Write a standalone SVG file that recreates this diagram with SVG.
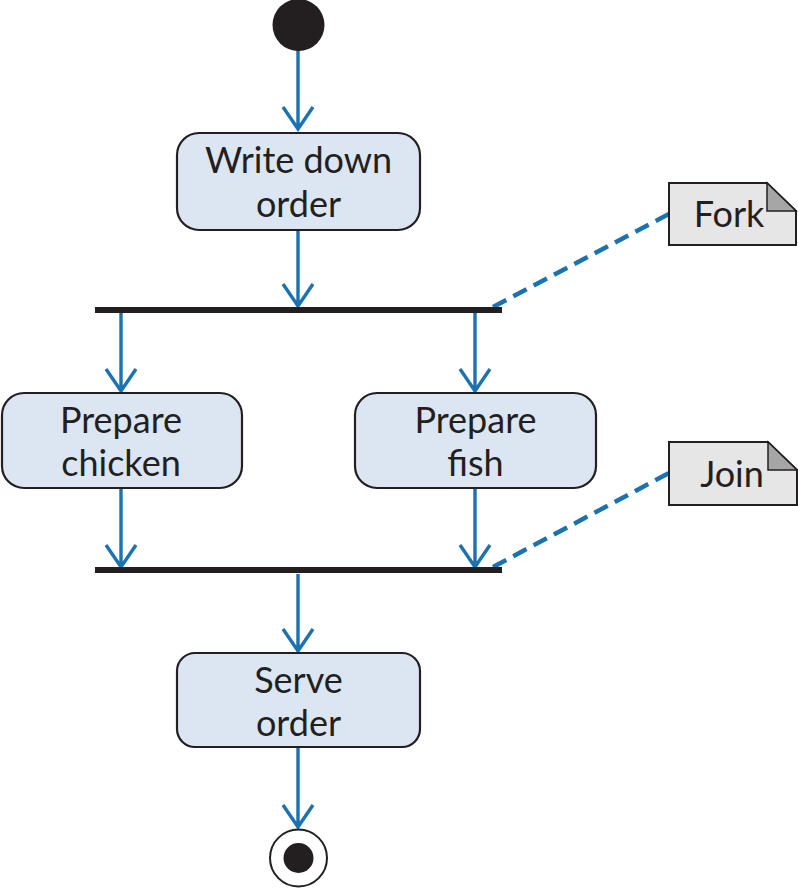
<svg xmlns="http://www.w3.org/2000/svg" width="798" height="888" viewBox="0 0 798 888">
<defs>
<style>
.act{fill:#dce6f2;stroke:#231f20;stroke-width:2.2}
.lbl{font-family:Lato,"Open Sans","Liberation Sans",sans-serif;font-size:36px;fill:#231f20;text-anchor:middle}
.flow{stroke:#1a72b0;stroke-width:3.4;fill:none}
.dash{stroke:#1a72b0;stroke-width:4.5;fill:none;stroke-dasharray:15 8}
.bar{fill:#231f20}
.note{fill:#e6e6e6;stroke:#231f20;stroke-width:2}
.fold{fill:#a6a6a6;stroke:#231f20;stroke-width:1.5}
</style>
</defs>
<g id="connectors">
<path class="flow" d="M298 50V129M283 107L298 129L313 107"/>
<path class="flow" d="M298 231V306M283 284L298 306L313 284"/>
<path class="flow" d="M121 313V391M106 369L121 391L136 369"/>
<path class="flow" d="M475 313V391M460 369L475 391L490 369"/>
<path class="flow" d="M121 489V567M106 545L121 567L136 545"/>
<path class="flow" d="M475 489V567M460 545L475 567L490 545"/>
<path class="flow" d="M298 574V651M283 629L298 651L313 629"/>
<path class="flow" d="M298 748V827M283 805L298 827L313 805"/>
<path class="dash" d="M493 307L669 214"/>
<path class="dash" d="M493 567L669 473"/>
</g>
<g id="start"><circle cx="298.5" cy="25" r="26" fill="#231f20"/></g>
<g id="write-down-order">
<rect class="act" x="177" y="133" width="243" height="97" rx="22"/>
<text class="lbl" x="298.5" y="173">Write down</text>
<text class="lbl" x="298.5" y="217">order</text>
</g>
<g id="fork"><rect class="bar" x="95" y="307" width="407" height="6"/></g>
<g id="prepare-chicken">
<rect class="act" x="2" y="393" width="240" height="95" rx="22"/>
<text class="lbl" x="121" y="433">Prepare</text>
<text class="lbl" x="121" y="476">chicken</text>
</g>
<g id="prepare-fish">
<rect class="act" x="355" y="393" width="241" height="95" rx="22"/>
<text class="lbl" x="475.5" y="433">Prepare</text>
<text class="lbl" x="475.5" y="476">fish</text>
</g>
<g id="join"><rect class="bar" x="95" y="567" width="407" height="6"/></g>
<g id="serve-order">
<rect class="act" x="177" y="653" width="243" height="94" rx="18"/>
<text class="lbl" x="298.5" y="693">Serve</text>
<text class="lbl" x="298.5" y="736">order</text>
</g>
<g id="end">
<circle cx="298.5" cy="858" r="28.5" fill="#fff" stroke="#231f20" stroke-width="2"/>
<circle cx="298.5" cy="858" r="15" fill="#231f20"/>
</g>
<g id="note-fork">
<path class="note" d="M669 183H767L796 211V245H669Z"/>
<path class="fold" d="M767 183V211H796Z"/>
<text class="lbl" x="729" y="227">Fork</text>
</g>
<g id="note-join">
<path class="note" d="M669 442H768L797 470V505H669Z"/>
<path class="fold" d="M768 442V470H797Z"/>
<text class="lbl" x="732" y="487">Join</text>
</g>
</svg>
